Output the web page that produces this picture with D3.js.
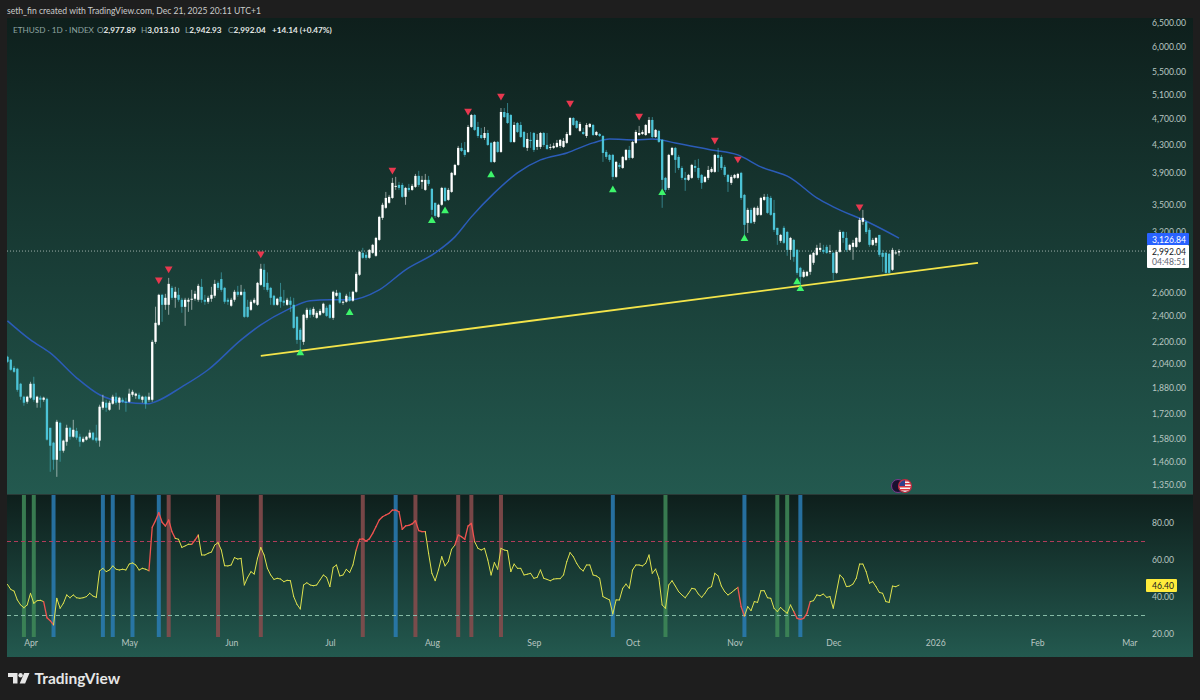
<!DOCTYPE html>
<html>
<head>
<meta charset="utf-8">
<title>ETHUSD 1D</title>
<script src="https://cdn.jsdelivr.net/npm/d3@7"></script>
<style>
  html, body { margin: 0; padding: 0; background: #1e1e1e; }
  svg { display: block; }
  text { font-family: Lato, "Open Sans", sans-serif; }
</style>
</head>
<body>
<svg id="chart" width="1200" height="700"></svg>
<script>
// Daily candles, one value per day starting 2025-03-25 (272 days)
const firstDay = "2025-03-25";

const opens = [
  2088,2067,2011,2005,1905,1823,1792,
  1817,1905,1786,1817,1804,1810,1640,1559,1471,1668,1517,1564,1640,1591,1623,1591,1564,1575,1586,1613,1586,1570,1756,1786,1744,1780,1823,1786,1804,1792,
  1792,1835,1829,1835,1804,1823,1804,1804,2197,2328,2578,2492,2492,2640,2552,2578,2535,2475,2518,2535,2544,2535,2649,2535,2518,2544,2570,2685,2720,2640,2535,
  2484,2535,2605,2578,2605,2475,2450,2510,2492,2667,2807,2685,2640,2570,2492,2561,2527,2492,2527,2492,2392,2289,2197,2384,2450,2409,2384,2409,2425,2467,
  2492,2384,2570,2596,2510,2518,2561,2527,2605,2760,2974,2954,2924,2974,2944,3108,3350,3466,3526,3585,3722,3747,3747,3598,3709,3684,3722,3864,3786,3684,3812,
  3697,3526,3361,3502,3709,3561,3659,3877,4011,4250,4221,4192,4564,4753,4564,4441,4396,4471,4323,4052,4337,4192,4802,4785,4753,4337,4626,4595,4487,4250,4367,
  4471,4264,4264,4471,4293,4250,4250,4264,4279,4264,4323,4441,4705,4658,4503,4487,4426,4564,4595,4441,4456,4426,4192,4150,4150,3851,4011,3970,4080,4221,
  4108,4323,4441,4456,4441,4471,4674,4411,4503,4367,3838,3709,4150,4250,4122,3970,3838,3812,3838,3997,3970,3877,3786,3838,3917,3917,4150,4122,3984,3877,3773,
  3838,3838,3904,3622,3293,3442,3305,3384,3384,3561,3598,3585,3407,3238,3098,3238,3193,3004,3108,3004,2826,2741,2750,2788,2875,2954,3004,3004,3035,2984,
  2974,2778,2984,3193,3129,3004,3035,3035,3087,3305,3305,3216,3056,3077,3161,2974,2974,2964,2807,2974,2977.89
];
const highs = [
  2095,2074,2025,2011,1911,1829,1829,
  1918,1951,1829,1829,1823,1817,1640,1564,1685,1674,1575,1657,1646,1685,1640,1607,1591,1596,1629,1618,1657,1774,1835,1804,1798,1835,1848,1823,1817,1817,
  1873,1866,1848,1848,1829,1829,1848,2212,2476,2587,2587,2587,2731,2658,2649,2640,2552,2552,2552,2622,2614,2676,2722,2578,2570,2649,2713,2700,2783,2649,2552,
  2552,2622,2658,2667,2631,2535,2535,2552,2694,2865,2865,2783,2649,2578,2552,2685,2622,2552,2561,2552,2400,2304,2417,2467,2467,2475,2441,2458,2510,2484,
  2501,2614,2622,2605,2527,2587,2605,2614,2788,2994,3025,2984,3014,3066,3140,3373,3526,3659,3622,3838,3851,3786,3773,3722,3760,3760,3890,3931,3864,3890,3864,
  3709,3526,3514,3722,3722,3709,3917,4025,4279,4323,4337,4595,4770,4770,4643,4549,4564,4518,4337,4352,4352,4868,4868,4951,4770,4643,4643,4643,4503,4471,4487,
  4487,4456,4487,4487,4471,4308,4323,4367,4381,4396,4487,4720,4720,4674,4643,4549,4626,4626,4611,4503,4471,4441,4221,4164,4164,4066,4038,4136,4235,4279,
  4352,4518,4580,4518,4611,4720,4720,4533,4518,4381,3851,4164,4264,4264,4150,3997,3917,3890,4025,4080,4094,3890,3864,3997,3984,4164,4250,4150,4011,3890,3877,
  3890,3904,3917,3634,3466,3466,3478,3490,3598,3634,3634,3610,3561,3238,3172,3260,3204,3140,3119,3014,2836,2807,2797,2964,2984,3056,3077,3056,3056,3056,
  2984,3004,3216,3204,3193,3066,3108,3140,3350,3442,3316,3238,3129,3140,3161,3004,2984,2974,3025,3000,3013.10
];
const lows = [
  2046,1991,1977,1854,1804,1768,1780,
  1810,1792,1756,1756,1792,1570,1412,1422,1388,1461,1507,1543,1575,1586,1575,1538,1559,1570,1580,1570,1559,1538,1744,1732,1738,1774,1774,1744,1786,1732,
  1786,1823,1810,1804,1786,1750,1792,1792,2182,2320,2352,2450,2409,2535,2467,2518,2425,2320,2433,2450,2527,2518,2510,2492,2501,2518,2552,2620,2605,2501,2492,
  2475,2518,2561,2570,2384,2384,2441,2501,2484,2658,2622,2605,2492,2484,2484,2467,2484,2484,2433,2297,2182,2116,2175,2368,2384,2392,2376,2400,2417,2392,
  2376,2368,2561,2501,2492,2510,2518,2518,2596,2750,2914,2904,2914,2964,2934,3098,3327,3454,3514,3573,3684,3684,3585,3502,3659,3672,3709,3722,3697,3672,3735,
  3384,3350,3350,3490,3537,3549,3647,3864,3997,4192,4122,4178,4549,4503,4396,4381,4367,4279,4038,4038,4178,4178,4705,4611,4323,4323,4471,4396,4250,4206,4250,
  4192,4221,4235,4264,4221,4221,4235,4250,4250,4250,4308,4426,4580,4533,4487,4441,4396,4549,4426,4426,4411,4052,4094,4052,3812,3838,3957,3957,4066,4080,
  4094,4308,4426,4441,4426,4456,4396,4396,4323,3466,3659,3684,4136,3904,3943,3812,3672,3798,3825,3917,3812,3697,3773,3812,3904,3904,3917,3943,3851,3659,3747,
  3825,3825,3561,3161,3182,3282,3282,3373,3373,3549,3396,3373,3193,3056,3077,3066,2944,2904,2885,2760,2667,2731,2741,2760,2855,2944,2984,2964,2964,2964,
  2713,2769,2974,3077,2984,2994,2904,3025,3077,3271,3172,3035,3045,3045,2934,2788,2769,2769,2797,2955,2942.93
];
const closes = [
  2053,1998,1984,1866,1823,1786,1823,
  1905,1804,1823,1804,1817,1575,1543,1471,1674,1517,1570,1640,1591,1629,1586,1564,1580,1591,1613,1575,1570,1762,1792,1756,1786,1823,1786,1817,1792,1786,
  1842,1854,1842,1810,1823,1780,1823,2197,2344,2578,2492,2552,2676,2552,2605,2535,2475,2535,2535,2544,2587,2658,2535,2518,2552,2578,2676,2640,2622,2518,2518,
  2535,2605,2578,2605,2392,2392,2518,2535,2685,2817,2649,2622,2552,2492,2544,2518,2510,2535,2492,2304,2212,2212,2409,2450,2409,2458,2425,2441,2501,2400,
  2384,2605,2596,2510,2518,2570,2527,2605,2769,2984,2924,2924,3004,3056,3129,3361,3502,3585,3598,3773,3735,3709,3598,3709,3684,3735,3864,3747,3812,3812,3760,
  3442,3373,3502,3709,3549,3684,3904,4011,4250,4206,4150,4564,4753,4518,4426,4396,4471,4293,4052,4337,4192,4802,4720,4626,4337,4595,4487,4411,4264,4381,4352,
  4221,4367,4471,4293,4235,4264,4279,4323,4367,4352,4456,4705,4595,4549,4611,4456,4595,4611,4441,4487,4426,4178,4122,4080,3851,4052,3984,4122,4221,4108,
  4337,4487,4471,4487,4595,4674,4411,4518,4337,3812,3684,4150,4250,4080,3970,3838,3812,3877,4011,3970,3838,3773,3851,3943,3957,4150,4108,3970,3877,3786,3851,
  3877,3890,3585,3271,3442,3293,3466,3466,3585,3598,3407,3384,3216,3161,3161,3077,3004,3129,2934,2778,2741,2788,2788,2954,2974,3025,3025,2984,2974,2994,
  2778,2984,3193,3129,3004,3056,3077,3129,3327,3350,3193,3056,3108,3129,2954,2934,2778,2778,3004,2978,2992.04
];

// Blue moving average, read at these dates
const maDates = ["2025-03-25","2025-04-01","2025-04-07","2025-04-15","2025-04-22","2025-04-29","2025-05-07","2025-05-09","2025-05-17","2025-05-25","2025-06-04","2025-06-10","2025-06-18","2025-06-25","2025-07-01","2025-07-07","2025-07-16","2025-07-24","2025-08-02","2025-08-08","2025-08-13","2025-08-20","2025-08-27","2025-09-03","2025-09-11","2025-09-19","2025-09-24","2025-10-02","2025-10-07","2025-10-14","2025-10-25","2025-11-02","2025-11-09","2025-11-18","2025-11-26","2025-12-01","2025-12-12","2025-12-21"];
const maValues = [2360,2212,2116,1944,1835,1792,1780,1792,1885,1998,2212,2328,2450,2527,2535,2535,2622,2807,2974,3140,3361,3647,3904,4080,4178,4323,4381,4367,4381,4323,4221,4150,3984,3838,3585,3478,3294,3126.84];

// Swing markers on the price pane
const topDates = ["2025-05-10","2025-05-13","2025-06-10","2025-07-20","2025-08-12","2025-08-22","2025-09-12","2025-10-03","2025-10-26","2025-11-02","2025-12-09"];
const topPrices = [2713,2817,2964,3943,4818,5070,4951,4737,4367,4094,3478];
const bottomDates = ["2025-06-22","2025-07-07","2025-08-01","2025-08-05","2025-08-19","2025-09-25","2025-10-10","2025-11-04","2025-11-20","2025-11-21"];
const bottomPrices = [2116,2425,3316,3430,3877,3684,3647,3119,2694,2631];

// Yellow support line
const trendDates = ["2025-06-10","2026-01-14"];
const trendPrices = [2095,2875];

// RSI, one value per day from firstDay
const rsiValues = [
  46.8,44.1,43.2,38.4,35.7,34.2,35.7,
  42,36.6,38,38.2,37.5,28.8,27.2,24.9,39.3,33.9,36.6,41.1,39.6,41.1,39.6,39.3,39.6,40.2,42,40.5,39.8,54.1,55.5,53.7,54.6,56.8,55,54.6,55,54.6,
  57.8,58.4,57.3,54.6,55.5,55,54.2,77.7,81.3,85.6,80.4,78.4,81.6,75.3,71.7,71.2,66.8,67.6,68.5,68.5,70.8,73.5,62.7,62.7,63.6,64.3,68.1,69.4,65.4,56.9,56.8,
  57.3,61.3,60.5,60.9,46.5,50.6,53.7,52.4,60.9,66.8,62.7,55.5,51.9,49.5,50.1,49.7,48.3,49,48.8,40.2,36,33.5,46.5,47.7,46.5,46.1,46.5,49.2,51.9,50.6,
  45.6,56,57.3,51.4,51.9,55,53.2,57.3,65.4,71.2,71.4,70.3,71.4,74.4,78,81.6,83.4,84.3,85.2,87,87,86.1,76.6,78.4,78.7,79.5,81.3,75.9,75.3,75.3,63.6,
  52.8,48.8,54.6,61.8,56.8,59.1,65.8,68.1,73.5,72.6,71.2,78.4,79.8,69.9,66.3,65.4,66.3,60,51.9,58.6,55,66.3,65.4,65,53.7,57.8,55.5,55.5,51.9,52.3,52.8,
  50.1,50.6,54.6,50.1,49.5,48.8,49.7,49.9,49.9,51.9,59.1,64,61.8,58.2,55.5,54.1,57.3,57.3,51.9,51.4,50.1,40.2,39.3,38.4,30.8,38.4,38.4,44.7,47,44.7,
  54.6,57.3,57.3,56.8,58.2,62.7,52.8,55.1,50.1,35.7,33.9,46.5,48.8,45.9,42.9,41.1,39.6,42,44.7,44.3,41.6,39.8,42,44.7,45.6,52.8,51.4,45.9,42.9,41.1,42.3,
  43.8,45.2,34.8,29.7,34.8,32.6,37.5,37.1,43.4,43.4,39.6,39.3,33.9,32.1,34.4,32.6,31.2,35.7,32.1,28.5,27.9,28.5,31.2,37.5,38,41.1,40.7,41.6,39.8,40.2,
  33.9,42.9,51.9,50.1,45.6,45.9,47,50.1,57.8,57.8,53.7,47.4,48.3,45.6,42.5,42,37.5,37.1,45.9,45.6,46.4
];
// stretches where the RSI line turns red (by end date of each segment)
const rsiRedRanges = [["2025-04-06","2025-04-08"],["2025-05-08","2025-05-15"],["2025-05-21","2025-05-22"],["2025-07-10","2025-07-30"],["2025-08-09","2025-08-14"],["2025-11-03","2025-11-04"],["2025-11-20","2025-11-24"]];

// Vertical signal bands in the RSI pane
const greenBands = ["2025-03-30","2025-04-02","2025-10-11","2025-11-14","2025-11-17"];
const blueBands = ["2025-04-08","2025-04-23","2025-04-26","2025-05-02","2025-05-10","2025-07-21","2025-09-25","2025-11-04","2025-11-21"];
const redBands = ["2025-05-13","2025-05-28","2025-06-10","2025-07-11","2025-07-27","2025-08-09","2025-08-13","2025-08-22"];

// Axis ticks
const priceTicks = [6500,6000,5500,5100,4700,4300,3900,3500,3200,2600,2400,2200,2040,1880,1720,1580,1460,1350];
const rsiTicks = [80,60,40,20];
const monthTicks = ["2025-04-01","2025-05-01","2025-06-01","2025-07-01","2025-08-01","2025-09-01","2025-10-01","2025-11-01","2025-12-01","2026-01-01","2026-02-01","2026-03-01"];

const lastPrice = 2992.04;
const lastMa = 3126.84;
const lastRsi = 46.40;

const day = d => new Date(d + "T00:00:00Z");
const start = day(firstDay);
const candles = closes.map((c, i) => ({
  date: d3.utcDay.offset(start, i),
  open: opens[i], high: highs[i], low: lows[i], close: c
}));

const fmt = d3.format(",.2f");
const upColor = "#ffffff", downColor = "#4cc3d6";
const axisFont = 8.6;

// Scales
const x = d3.scaleUtc().domain([day("2025-04-01"), day("2026-01-01")]).range([30.5, 935.25]);
const y = d3.scaleLog().domain([1350, 6500]).range([485, 23]);
const yRsi = d3.scaleLinear().domain([20, 80]).range([634, 523]);

const svg = d3.select("#chart");
const defs = svg.append("defs");

const grad = defs.append("linearGradient").attr("id", "paneBg")
  .attr("x1", 0).attr("y1", 0).attr("x2", 0).attr("y2", 1);
grad.append("stop").attr("offset", 0).attr("stop-color", "#0e1f1c");
grad.append("stop").attr("offset", 1).attr("stop-color", "#23594f");

// Panes
svg.append("rect").attr("width", 1200).attr("height", 700).attr("fill", "#1e1e1e");
svg.append("rect").attr("x", 7).attr("y", 18).attr("width", 1186).attr("height", 639).attr("fill", "#131a19");
svg.append("rect").attr("x", 7).attr("y", 18).attr("width", 1186).attr("height", 476).attr("fill", "url(#paneBg)");
svg.append("rect").attr("x", 7).attr("y", 495).attr("width", 1186).attr("height", 162).attr("fill", "url(#paneBg)");

defs.append("clipPath").attr("id", "priceClip").append("rect")
  .attr("x", 7).attr("y", 18).attr("width", 1140).attr("height", 476);

// Last price line
svg.append("line")
  .attr("x1", 7).attr("x2", 1147)
  .attr("y1", y(lastPrice)).attr("y2", y(lastPrice))
  .attr("stroke", "#d5e0dc").attr("stroke-width", 0.7)
  .attr("stroke-dasharray", "1,2");

const pricePane = svg.append("g").attr("clip-path", "url(#priceClip)");

// Moving average
const maLine = d3.line()
  .x((d, i) => x(day(maDates[i])))
  .y(d => y(d))
  .curve(d3.curveMonotoneX);
pricePane.append("path")
  .datum(maValues)
  .attr("fill", "none")
  .attr("stroke", "#2b5cb8")
  .attr("stroke-width", 1.5)
  .attr("d", maLine);

// Support line
pricePane.append("line")
  .attr("x1", x(day(trendDates[0]))).attr("y1", y(trendPrices[0]))
  .attr("x2", x(day(trendDates[1]))).attr("y2", y(trendPrices[1]))
  .attr("stroke", "#f3e44a").attr("stroke-width", 1.8);

// Candles
const candleG = pricePane.selectAll("g.candle")
  .data(candles)
  .enter().append("g")
    .attr("class", "candle")
    .attr("fill", d => d.close >= d.open ? upColor : downColor)
    .attr("stroke", d => d.close >= d.open ? upColor : downColor);

candleG.append("line")
  .attr("x1", d => x(d.date)).attr("x2", d => x(d.date))
  .attr("y1", d => y(d.high)).attr("y2", d => y(d.low))
  .attr("stroke-width", 0.7)
  .attr("stroke-opacity", 0.75);

candleG.append("rect")
  .attr("x", d => x(d.date) - 1.15)
  .attr("width", 2.3)
  .attr("y", d => y(Math.max(d.open, d.close)))
  .attr("height", d => Math.max(1, y(Math.min(d.open, d.close)) - y(Math.max(d.open, d.close))))
  .attr("stroke", "none");

// Triangles
const tri = d3.symbol().type(d3.symbolTriangle).size(26);
svg.selectAll("path.top")
  .data(topDates)
  .enter().append("path")
    .attr("class", "top")
    .attr("d", tri)
    .attr("fill", "#e8384f")
    .attr("transform", (d, i) => `translate(${x(day(d))},${y(topPrices[i])}) rotate(180)`);
svg.selectAll("path.bottom")
  .data(bottomDates)
  .enter().append("path")
    .attr("class", "bottom")
    .attr("d", tri)
    .attr("fill", "#3df56b")
    .attr("transform", (d, i) => `translate(${x(day(d))},${y(bottomPrices[i])})`);

// Event icon above the separator
const icon = svg.append("g").attr("transform", "translate(905,486)");
icon.append("circle").attr("cx", -7).attr("r", 6.5).attr("fill", "#1a1030").attr("stroke", "#7a3a90").attr("stroke-width", 1);
defs.append("clipPath").attr("id", "flagClip").append("circle").attr("r", 6);
const flag = icon.append("g").attr("clip-path", "url(#flagClip)");
flag.append("rect").attr("x", -7).attr("y", -7).attr("width", 14).attr("height", 14).attr("fill", "#f4f4f4");
d3.range(4).forEach(i => flag.append("rect").attr("x", -7).attr("y", -6 + i * 3).attr("width", 14).attr("height", 1.5).attr("fill", "#d8363f"));
flag.append("rect").attr("x", -7).attr("y", -7).attr("width", 7).attr("height", 7).attr("fill", "#2c3f8c");
icon.append("circle").attr("r", 6.5).attr("fill", "none").attr("stroke", "#c4283f").attr("stroke-width", 1.2);

// Separator
svg.append("rect").attr("x", 7).attr("y", 494).attr("width", 1186).attr("height", 1).attr("fill", "#2a3a37");

// RSI bands
function drawBands(dates, color) {
  svg.append("g").selectAll("rect")
    .data(dates)
    .enter().append("rect")
      .attr("x", d => x(day(d)) - 2)
      .attr("width", 4)
      .attr("y", 495)
      .attr("height", 142)
      .attr("fill", color)
      .attr("fill-opacity", 0.85);
}
drawBands(greenBands, "#3f8a58");
drawBands(blueBands, "#2a7db5");
drawBands(redBands, "#8a4c4d");

// RSI levels
[[70, "#b03c5a"], [30, "#86bba6"]].forEach(([v, c]) => {
  svg.append("line")
    .attr("x1", 7).attr("x2", 1146)
    .attr("y1", yRsi(v)).attr("y2", yRsi(v))
    .attr("stroke", c).attr("stroke-width", 1)
    .attr("stroke-dasharray", "4,3");
});

// RSI line, one segment per day so it can change colour
const redRanges = rsiRedRanges.map(r => [day(r[0]), day(r[1])]);
const rsiPoints = rsiValues.map((v, i) => ({ date: d3.utcDay.offset(start, i), value: v }));
svg.append("g").selectAll("line")
  .data(rsiPoints.slice(1))
  .enter().append("line")
    .attr("x1", (d, i) => x(rsiPoints[i].date))
    .attr("y1", (d, i) => yRsi(rsiPoints[i].value))
    .attr("x2", d => x(d.date))
    .attr("y2", d => yRsi(d.value))
    .attr("stroke-linecap", "round")
    .attr("stroke-width", d => redRanges.some(r => d.date >= r[0] && d.date <= r[1]) ? 1.3 : 1)
    .attr("stroke", d => redRanges.some(r => d.date >= r[0] && d.date <= r[1]) ? "#ef5350" : "#dfe24e");

// Axes
const axisColor = "#b9c6c2";
function styleAxis(g) {
  g.select(".domain").remove();
  g.selectAll("line").remove();
  g.selectAll("text").attr("fill", axisColor).style("font-size", axisFont + "px");
}

svg.append("g")
  .attr("transform", "translate(1152,0)")
  .call(d3.axisRight(y).tickValues(priceTicks).tickSize(0).tickPadding(0).tickFormat(fmt))
  .call(styleAxis);

svg.append("g")
  .attr("transform", "translate(1152,0)")
  .call(d3.axisRight(yRsi).tickValues(rsiTicks).tickSize(0).tickPadding(0).tickFormat(fmt))
  .call(styleAxis);

svg.append("g")
  .attr("transform", "translate(0,640)")
  .call(d3.axisBottom(x).tickValues(monthTicks.map(day)).tickSize(0).tickPadding(0)
    .tickFormat(d => d.getUTCMonth() === 0 ? String(d.getUTCFullYear()) : d3.utcFormat("%b")(d)))
  .call(styleAxis);

// Price labels on the axis
function axisLabel(top, height, fill, rows) {
  svg.append("rect").attr("x", 1147).attr("y", top).attr("width", 42).attr("height", height)
    .attr("rx", 1).attr("fill", fill);
  rows.forEach(r => {
    svg.append("text").attr("x", 1152).attr("y", r.y).attr("fill", r.color)
      .style("font-size", axisFont + "px").text(r.text);
  });
}
axisLabel(233, 12, "#2962ff", [{ y: 242.5, color: "#ffffff", text: fmt(lastMa) }]);
axisLabel(245, 23, "#ffffff", [
  { y: 255, color: "#131722", text: fmt(lastPrice) },
  { y: 265, color: "#5d6470", text: "04:48:51" }
]);
svg.append("rect").attr("x", 1146).attr("y", 579).attr("width", 31).attr("height", 13)
  .attr("rx", 1).attr("fill", "#ffeb3b");
svg.append("text").attr("x", 1152).attr("y", 589).attr("fill", "#131722")
  .style("font-size", axisFont + "px").text(lastRsi.toFixed(2));

// Header and legend
svg.append("text").attr("x", 7).attr("y", 13.5).attr("fill", "#c9cccb")
  .style("font-size", "8.6px")
  .text("seth_fin created with TradingView.com, Dec 21, 2025 20:11 UTC+1");

const legendLabel = "#8fa3a0", legendValue = "#e4e8e6";
svg.append("text").attr("x", 13).attr("y", 33).attr("fill", legendLabel)
  .style("font-size", "8.2px").text("ETHUSD · 1D · INDEX");
[["O", opens, 97], ["H", highs, 141], ["L", lows, 185], ["C", closes, 228]].forEach(([n, a, px]) => {
  const t = svg.append("text").attr("x", px).attr("y", 33).style("font-size", "8.2px");
  t.append("tspan").attr("fill", legendLabel).text(n);
  t.append("tspan").attr("fill", legendValue).style("font-weight", 700).text(fmt(a[a.length - 1]));
});
svg.append("text").attr("x", 272).attr("y", 33).attr("fill", legendValue)
  .style("font-size", "8.2px").style("font-weight", 700).text("+14.14 (+0.47%)");

// TradingView logo
const logo = svg.append("g").attr("fill", "#e6e6e6");
logo.append("path").attr("d", "M8 673h9.5v10.5h-4.5v-6.5h-5z");
logo.append("circle").attr("cx", 20.6).attr("cy", 675.2).attr("r", 2.2);
logo.append("path").attr("d", "M24.2 673h5.3l-4.4 10.5h-5.4z");
svg.append("text").attr("x", 34.5).attr("y", 684).attr("fill", "#e6e6e6")
  .style("font-size", "15.5px").style("font-weight", 700).text("TradingView");
</script>
</body>
</html>
